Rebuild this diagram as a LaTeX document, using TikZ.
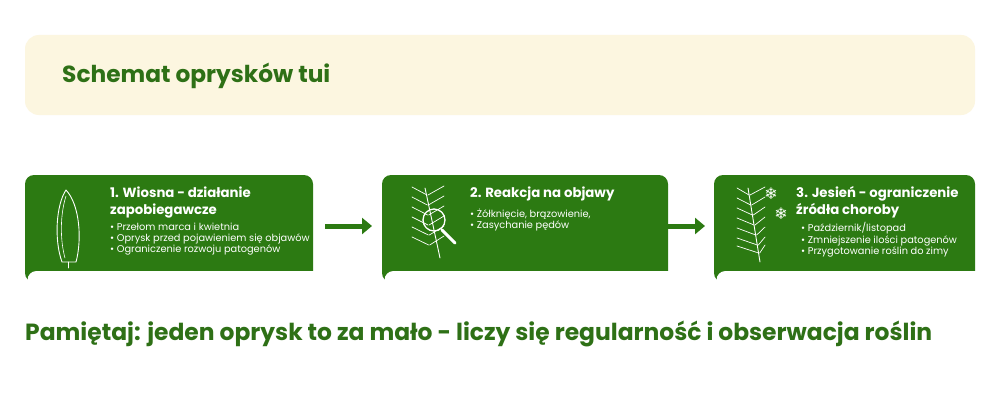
\documentclass[tikz,border=0pt]{standalone}
\usepackage{fontspec}
\setmainfont{Poppins}
\newfontfamily\symf{DejaVu Sans}
\usetikzlibrary{arrows.meta}
\definecolor{gr}{HTML}{2C7A12}
\definecolor{tgr}{HTML}{2E7016}
\definecolor{bei}{HTML}{FCF6E0}
\begin{document}
\begin{tikzpicture}[x=1pt,y=-1pt,
  card/.style={fill=gr,draw=none,rounded corners=9pt},
  cut/.style={fill=white,draw=none,rounded corners=9pt},
  ttl/.style={anchor=west,text=white,font=\fontsize{13.3}{17}\selectfont\bfseries,align=left,inner sep=0},
  bul/.style={anchor=west,text=white,font=\fontsize{9.8}{11.4}\selectfont,align=left,inner sep=0},
  ico/.style={draw=white,line width=0.9pt,line cap=round},
  flow/.style={-{Triangle[length=10pt,width=16pt]},line width=5pt,draw=gr}]
\useasboundingbox (0,0) rectangle (1000,404);
\fill[white] (0,0) rectangle (1000,404);
\fill[bei,rounded corners=14pt] (25,35) rectangle (975,115);
\node[anchor=west,text=tgr,font=\fontsize{23.3}{26}\selectfont\bfseries,inner sep=0] (title) at (62,76) {Schemat oprysków tui};
% cards
\foreach \a/\b in {25/313,382/668,714/975}{
  \fill[card] (\a,175) rectangle (\b,282);
  \fill[cut] (\a+2.5,271) rectangle (\b+10,300);
}
\fill[white] (0,283) rectangle (1000,300);
% card 1
\node (c1) at (169,226) {};
\draw[ico] (66,190) .. controls (56,205) and (54,240) .. (62,262) -- (76,262) .. controls (82,240) and (80,205) .. (66,190);
\draw[ico] (68,262) -- (68,268);
\draw[ico,line width=0.6pt] (66,196) .. controls (60,215) and (60,240) .. (65,258);
\node[ttl] (t1) at (110,202) {1. Wiosna - działanie\\zapobiegawcze};
\node[bul] (b1) at (110,239) {• Przełom marca i kwietnia\\• Oprysk przed pojawieniem się objawów\\• Ograniczenie rozwoju patogenów};
% card 2
\draw[ico] (425,188) -- (440,258);
\foreach \y in {195,205,215,225,235,245}{
  \draw[ico,line width=0.7pt] (427+\y/30-6.5,\y) -- (412,\y-8);
  \draw[ico,line width=0.7pt] (428+\y/30-6.5,\y) -- (444,\y-9);
}
\draw[ico,line width=1.3pt] (434,220) circle (11pt);
\draw[ico,line width=3pt] (442,230) -- (455,243);
\node[ttl] (t2) at (470,194) {2. Reakcja na objawy};
\node[bul] (b2) at (470,220) {• Żółknięcie, brązowienie,\\• Zasychanie pędów};
% card 3
\draw[ico] (748,188) -- (760,262);
\foreach \y in {195,205,215,225,235,245,253}{
  \draw[ico,line width=0.7pt] (749+\y/6-32.5,\y) -- (737,\y-7);
  \draw[ico,line width=0.7pt] (750+\y/6-32.5,\y) -- (765,\y-8);
}
\node[text=white,font=\symf\fontsize{16}{16}\selectfont] (s1) at (771,194) {❄};
\node[text=white,font=\symf\fontsize{16}{16}\selectfont] (s2) at (781,214) {❄};
\node[ttl] (t3) at (796,202) {3. Jesień - ograniczenie\\źródła choroby};
\node[bul] (b3) at (801,240) {• Październik/listopad\\• Zmniejszenie ilości patogenów\\• Przygotowanie roślin do zimy};
% arrows
\coordinate (a1s) at (325,226); \coordinate (a1e) at (372,226);
\coordinate (a2s) at (657,226); \coordinate (a2e) at (705,226);
\draw[flow] (a1s) -- (a1e);
\draw[flow] (a2s) -- (a2e);
\node[anchor=west,text=tgr,font=\fontsize{23.4}{26}\selectfont\bfseries,inner sep=0] (foot) at (25,334) {Pamiętaj: jeden oprysk to za mało - liczy się regularność i obserwacja roślin};
\end{tikzpicture}
\end{document}
